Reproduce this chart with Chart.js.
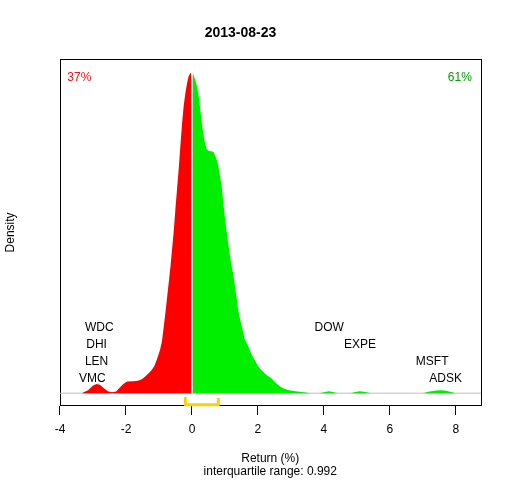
<!DOCTYPE html>
<html>
<head>
<meta charset="utf-8">
<script src="https://cdn.jsdelivr.net/npm/chart.js@4/dist/chart.umd.min.js"></script>
<style>
  html, body { margin: 0; padding: 0; background: #fff; }
  canvas { display: block; }
</style>
</head>
<body>
<canvas id="grafico" width="512" height="480"></canvas>
<script>

// densidad de retornos: parte negativa (rojo)
const negX = [-3.34, -3.15, -3.00, -2.89, -2.79, -2.67, -2.55, -2.42, -2.30, -2.21, -2.09, -1.97, -1.79, -1.64,
  -1.52, -1.42, -1.32, -1.22, -1.14, -1.07, -1.02, -0.97, -0.91, -0.85, -0.80, -0.75, -0.70, -0.65, -0.60,
  -0.55, -0.50, -0.45, -0.40, -0.35, -0.30, -0.25, -0.20, -0.15, -0.10, -0.05, -0.02];
const negY = [0, 0.0075, 0.019, 0.023, 0.021, 0.0125, 0.005, 0.0025, 0.004, 0.0125, 0.0225, 0.029, 0.030, 0.031,
  0.035, 0.042, 0.049, 0.058, 0.068, 0.083, 0.095, 0.108, 0.130, 0.170, 0.205, 0.243, 0.280, 0.318, 0.363,
  0.408, 0.463, 0.513, 0.563, 0.620, 0.675, 0.720, 0.750, 0.775, 0.793, 0.800, 0.801];

// parte positiva (verde)
const posX = [0.02, 0.05, 0.10, 0.15, 0.20, 0.25, 0.30, 0.35, 0.40, 0.45, 0.50, 0.55, 0.60, 0.65, 0.70, 0.75,
  0.80, 0.85, 0.90, 0.95, 1.00, 1.05, 1.10, 1.15, 1.20, 1.25, 1.30, 1.35, 1.40, 1.45, 1.50, 1.55, 1.60, 1.70,
  1.80, 1.90, 2.00, 2.10, 2.20, 2.30, 2.40, 2.55, 2.70, 2.90, 3.20, 3.45, 3.60, 3.85, 4.00, 4.15, 4.30, 4.42,
  4.81, 4.95, 5.09, 5.25, 5.42, 7.00, 7.20, 7.40, 7.55, 7.70, 7.85, 8.00];
const posY = [0.801, 0.795, 0.783, 0.768, 0.745, 0.710, 0.675, 0.645, 0.623, 0.610, 0.606, 0.605, 0.605, 0.603,
  0.595, 0.583, 0.568, 0.543, 0.518, 0.475, 0.438, 0.405, 0.375, 0.345, 0.318, 0.298, 0.270, 0.240, 0.210,
  0.188, 0.170, 0.153, 0.135, 0.118, 0.098, 0.083, 0.068, 0.058, 0.050, 0.043, 0.038, 0.025, 0.015, 0.008,
  0.004, 0.002, 0, 0, 0.0025, 0.005, 0.0025, 0, 0, 0.003, 0.005, 0.003, 0, 0, 0.004, 0.007, 0.0075, 0.006,
  0.003, 0];

const xTicks = [-4, -2, 0, 2, 4, 6, 8];

// acciones extremas
const tickers = ['WDC', 'DHI', 'LEN', 'VMC', 'DOW', 'EXPE', 'MSFT', 'ADSK'];
const tickerX = [-2.81, -2.89, -2.89, -3.02, 4.16, 5.09, 7.28, 7.69];
const tickerY = [0.165, 0.1215, 0.078, 0.0365, 0.165, 0.1215, 0.078, 0.0365];

// rango intercuartil
const iqrX = [-0.2, 0.8];
const iqrY = [-0.012, -0.029];

const pctText = ['37%', '61%'];
const pctX = [-3.415, 8.12];
const pctY = [0.789, 0.789];

const fuente = '"Liberation Sans", Arial, sans-serif';
Chart.defaults.font.family = fuente;
Chart.defaults.color = '#000';

let caja = {
    id: 'caja',
    beforeDatasetsDraw(chart) {
        const a = chart.chartArea;
        const ctx = chart.ctx;
        ctx.save();
        ctx.strokeStyle = '#000';
        ctx.lineWidth = 1;
        ctx.strokeRect(Math.round(a.left) + 0.5, Math.round(a.top) + 0.5,
            Math.round(a.right - a.left) - 1, Math.round(a.bottom - a.top) - 1);
        ctx.restore();
    },
    afterDatasetsDraw(chart) {
        const ctx = chart.ctx;
        const x = chart.scales.x, y = chart.scales.y;
        ctx.save();
        ctx.font = '12px ' + fuente;
        ctx.textAlign = 'center';
        ctx.textBaseline = 'middle';
        ctx.fillStyle = '#000';
        tickers.forEach((t, i) => {
            ctx.fillText(t, x.getPixelForValue(tickerX[i]), y.getPixelForValue(tickerY[i]));
        });
        const colores = ['#FF1010', '#00A000'];
        pctText.forEach((t, i) => {
            ctx.fillStyle = colores[i];
            ctx.fillText(t, x.getPixelForValue(pctX[i]), y.getPixelForValue(pctY[i]));
        });
        ctx.restore();
    }
};

const ctx = document.getElementById('grafico');

const dataset = {
    datasets: [
        {
            label: 'IQR',
            data: [
                {x: iqrX[0], y: iqrY[0]}, {x: iqrX[0], y: iqrY[1]},
                {x: iqrX[1], y: iqrY[1]}, {x: iqrX[1], y: iqrY[0]}
            ],
            borderColor: '#FFD000',
            borderWidth: 3,
            borderJoinStyle: 'round',
            pointRadius: 0,
            fill: false,
            clip: false
        },
        {
            label: 'negativos',
            data: negX.map((v, i) => ({x: v, y: negY[i]})),
            borderColor: 'rgba(0,0,0,0)',
            backgroundColor: '#FF0000',
            borderWidth: 0,
            pointRadius: 0,
            fill: 'origin',
            tension: 0
        },
        {
            label: 'positivos',
            data: posX.map((v, i) => ({x: v, y: posY[i]})),
            borderColor: 'rgba(0,0,0,0)',
            backgroundColor: '#00EE00',
            borderWidth: 0,
            pointRadius: 0,
            fill: 'origin',
            tension: 0
        },
        {
            label: 'base',
            data: [{x: -4.015, y: 0}, {x: 8.76, y: 0}],
            borderColor: '#BEBEBE',
            borderWidth: 1,
            pointRadius: 0,
            fill: false
        }
    ]
};

const config = {
    type: 'line',
    data: dataset,
    options: {
        responsive: false,
        animation: false,
        devicePixelRatio: 1,
        layout: { padding: { left: 0, right: 31, top: 0, bottom: 0 } },
        plugins: {
            legend: { display: false },
            tooltip: { enabled: false },
            title: {
                display: true,
                text: '2013-08-23',
                color: '#000',
                font: { size: 14, weight: 'bold' },
                padding: { top: 24.5, bottom: 17.5 }
            }
        },
        scales: {
            x: {
                type: 'linear',
                position: 'bottom',
                min: -4.015,
                max: 8.76,
                afterBuildTicks: (s) => { s.ticks = xTicks.map(v => ({value: v})); },
                afterFit: (s) => { s.height = 74; },
                ticks: {
                    autoSkip: false,
                    maxRotation: 0,
                    padding: 7,
                    color: '#000',
                    font: { size: 12 },
                    callback: (v) => String(v)
                },
                grid: { drawOnChartArea: false, drawTicks: true, tickLength: 9, color: '#000' },
                border: { display: false },
                title: {
                    display: true,
                    text: ['Return (%)', 'interquartile range: 0.992'],
                    color: '#000',
                    font: { size: 12, lineHeight: 1.1 },
                    padding: { top: 0, bottom: 2 }
                }
            },
            y: {
                type: 'linear',
                min: -0.032,
                max: 0.836,
                afterFit: (s) => { s.width = 59.5; },
                ticks: { display: false },
                grid: { display: false },
                border: { display: false },
                title: {
                    display: true,
                    text: 'Density',
                    color: '#000',
                    font: { size: 12 },
                    padding: { top: 3, bottom: 0 }
                }
            }
        }
    },
    plugins: [caja]
};

const chart = new Chart(ctx, config);
</script>
</body>
</html>
